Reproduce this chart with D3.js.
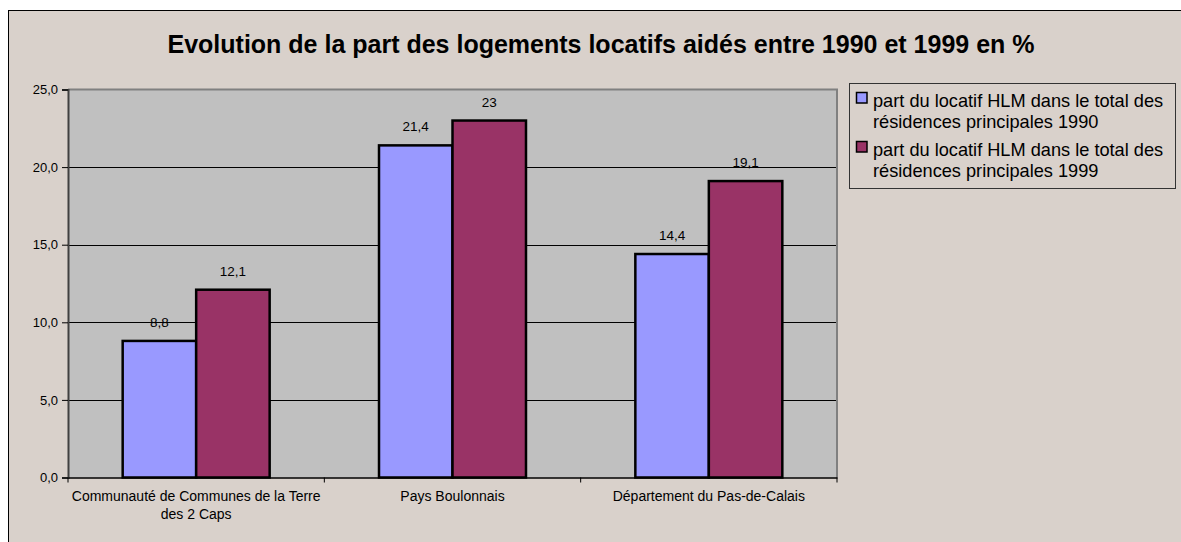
<!DOCTYPE html>
<html>
<head>
<meta charset="utf-8">
<script src="https://cdn.jsdelivr.net/npm/d3@7"></script>
<style>
  html, body { margin: 0; padding: 0; background: #ffffff; }
  svg { display: block; font-family: "Liberation Sans", Arial, sans-serif; }
</style>
</head>
<body>
<svg id="chart" width="1181" height="542"></svg>
<script>
// Data
const categories = [
  "Communauté de Communes de la Terre des 2 Caps",
  "Pays Boulonnais",
  "Département du Pas-de-Calais"
];
const seriesNames = [
  "part du locatif HLM dans le total des résidences principales 1990",
  "part du locatif HLM dans le total des résidences principales 1999"
];
const values1990 = [8.8, 21.4, 14.4];
const values1999 = [12.1, 23, 19.1];
const labels1990 = ["8,8", "21,4", "14,4"];
const labels1999 = ["12,1", "23", "19,1"];
const yTicks = [0, 5, 10, 15, 20, 25];
const categoryLines = [
  ["Communauté de Communes de la Terre", "des 2 Caps"],
  ["Pays Boulonnais"],
  ["Département du Pas-de-Calais"]
];
const legendLines = [
  ["part du locatif HLM dans le total des", "résidences principales 1990"],
  ["part du locatif HLM dans le total des", "résidences principales 1999"]
];
const seriesColors = ["#9999FF", "#993366"];
const title = "Evolution de la part des logements locatifs aidés entre 1990 et 1999 en %";

const svg = d3.select("#chart");

// Chart frame
svg.append("rect")
  .attr("x", 8.5).attr("y", 10.5)
  .attr("width", 1200).attr("height", 600)
  .attr("fill", "#D9D1CB").attr("stroke", "#000").attr("stroke-width", 1);

// Title
svg.append("text")
  .attr("x", 601).attr("y", 53)
  .attr("text-anchor", "middle")
  .attr("font-size", 25).attr("font-weight", "bold")
  .attr("fill", "#000")
  .text(title);

// Plot area
const plot = { left: 68, right: 837, top: 89.5, bottom: 477.5 };

const x0 = d3.scaleBand().domain(categories).range([plot.left, plot.right]).paddingInner(0).paddingOuter(0);
const x1 = d3.scaleBand().domain([0, 1]).range([0, x0.bandwidth()]).paddingInner(0).paddingOuter(0.744);
const y = d3.scaleLinear().domain([0, 25]).range([plot.bottom, plot.top]);

const fr = d3.formatLocale({ decimal: ",", thousands: " ", grouping: [3], currency: ["", " €"] });
const fmt = fr.format(".1f");

svg.append("rect")
  .attr("x", plot.left).attr("y", plot.top)
  .attr("width", plot.right - plot.left).attr("height", plot.bottom - plot.top)
  .attr("fill", "#C0C0C0");

// Gridlines
svg.append("g").selectAll("line")
  .data(yTicks.filter(t => t > 0 && t < 25))
  .join("line")
  .attr("x1", plot.left).attr("x2", plot.right)
  .attr("y1", d => Math.round(y(d)) + 0.5).attr("y2", d => Math.round(y(d)) + 0.5)
  .attr("stroke", "#000").attr("stroke-width", 1);

// Plot border (top and right)
svg.append("path")
  .attr("d", `M${plot.left},${plot.top} H${plot.right} V${plot.bottom}`)
  .attr("fill", "none").attr("stroke", "#808080").attr("stroke-width", 2);

// Bars
const rows = categories.map((c, i) => ({ c, vals: [values1990[i], values1999[i]], labs: [labels1990[i], labels1999[i]] }));
const groups = svg.append("g").selectAll("g")
  .data(rows).join("g")
  .attr("transform", d => `translate(${x0(d.c)},0)`);

groups.selectAll("rect")
  .data(d => d.vals.map((v, k) => ({ v, k })))
  .join("rect")
  .attr("x", d => x1(d.k))
  .attr("y", d => y(d.v))
  .attr("width", x1.bandwidth())
  .attr("height", d => y(0) - y(d.v))
  .attr("fill", d => seriesColors[d.k])
  .attr("stroke", "#000").attr("stroke-width", 2.5);

groups.selectAll("text")
  .data(d => d.vals.map((v, k) => ({ v, k, lab: d.labs[k] })))
  .join("text")
  .attr("x", d => x1(d.k) + x1.bandwidth() / 2)
  .attr("y", d => y(d.v) - 14)
  .attr("text-anchor", "middle")
  .attr("font-size", 13.5).attr("fill", "#000")
  .text(d => d.lab);

// Y axis
const yAxis = svg.append("g")
  .attr("transform", `translate(${plot.left},0)`)
  .call(d3.axisLeft(y).tickValues(yTicks).tickFormat(fmt).tickSize(6).tickPadding(4));
yAxis.select(".domain").attr("stroke", "#404040").attr("stroke-width", 2);
yAxis.selectAll(".tick line").attr("stroke", "#000");
yAxis.selectAll(".tick text").attr("font-size", 13).attr("fill", "#000")
  .attr("font-family", "Liberation Sans, Arial, sans-serif");

// X axis
const xAxis = svg.append("g")
  .attr("transform", `translate(0,${plot.bottom})`)
  .call(d3.axisBottom(x0).tickSize(0).tickFormat(""));
xAxis.select(".domain").attr("stroke", "#000").attr("stroke-width", 1.5);
svg.append("g").selectAll("line")
  .data(d3.range(categories.length + 1))
  .join("line")
  .attr("x1", i => plot.left + i * x0.step()).attr("x2", i => plot.left + i * x0.step())
  .attr("y1", plot.bottom).attr("y2", plot.bottom + 5)
  .attr("stroke", "#000");

svg.append("g").selectAll("text")
  .data(categories)
  .join("text")
  .attr("x", d => x0(d) + x0.bandwidth() / 2)
  .attr("y", 501)
  .attr("text-anchor", "middle")
  .attr("font-size", 14).attr("fill", "#000")
  .each(function(d, i) {
    d3.select(this).selectAll("tspan")
      .data(categoryLines[i]).join("tspan")
      .attr("x", x0(d) + x0.bandwidth() / 2)
      .attr("dy", (l, j) => j === 0 ? 0 : 18)
      .text(l => l);
  });

// Legend
const legend = svg.append("g");
legend.append("rect")
  .attr("x", 849.5).attr("y", 83.5).attr("width", 326).attr("height", 105)
  .attr("fill", "#D9D1CB").attr("stroke", "#333").attr("stroke-width", 1);
legendLines.forEach((lines, k) => {
  const base = 107 + k * 49;
  legend.append("rect")
    .attr("x", 856.5).attr("y", base - 14.5).attr("width", 10.5).attr("height", 10.5)
    .attr("fill", seriesColors[k]).attr("stroke", "#000").attr("stroke-width", 1.5);
  lines.forEach((l, j) => {
    legend.append("text")
      .attr("x", 873).attr("y", base + j * 21)
      .attr("font-size", 18.2).attr("fill", "#000")
      .text(l);
  });
});
</script>
</body>
</html>
